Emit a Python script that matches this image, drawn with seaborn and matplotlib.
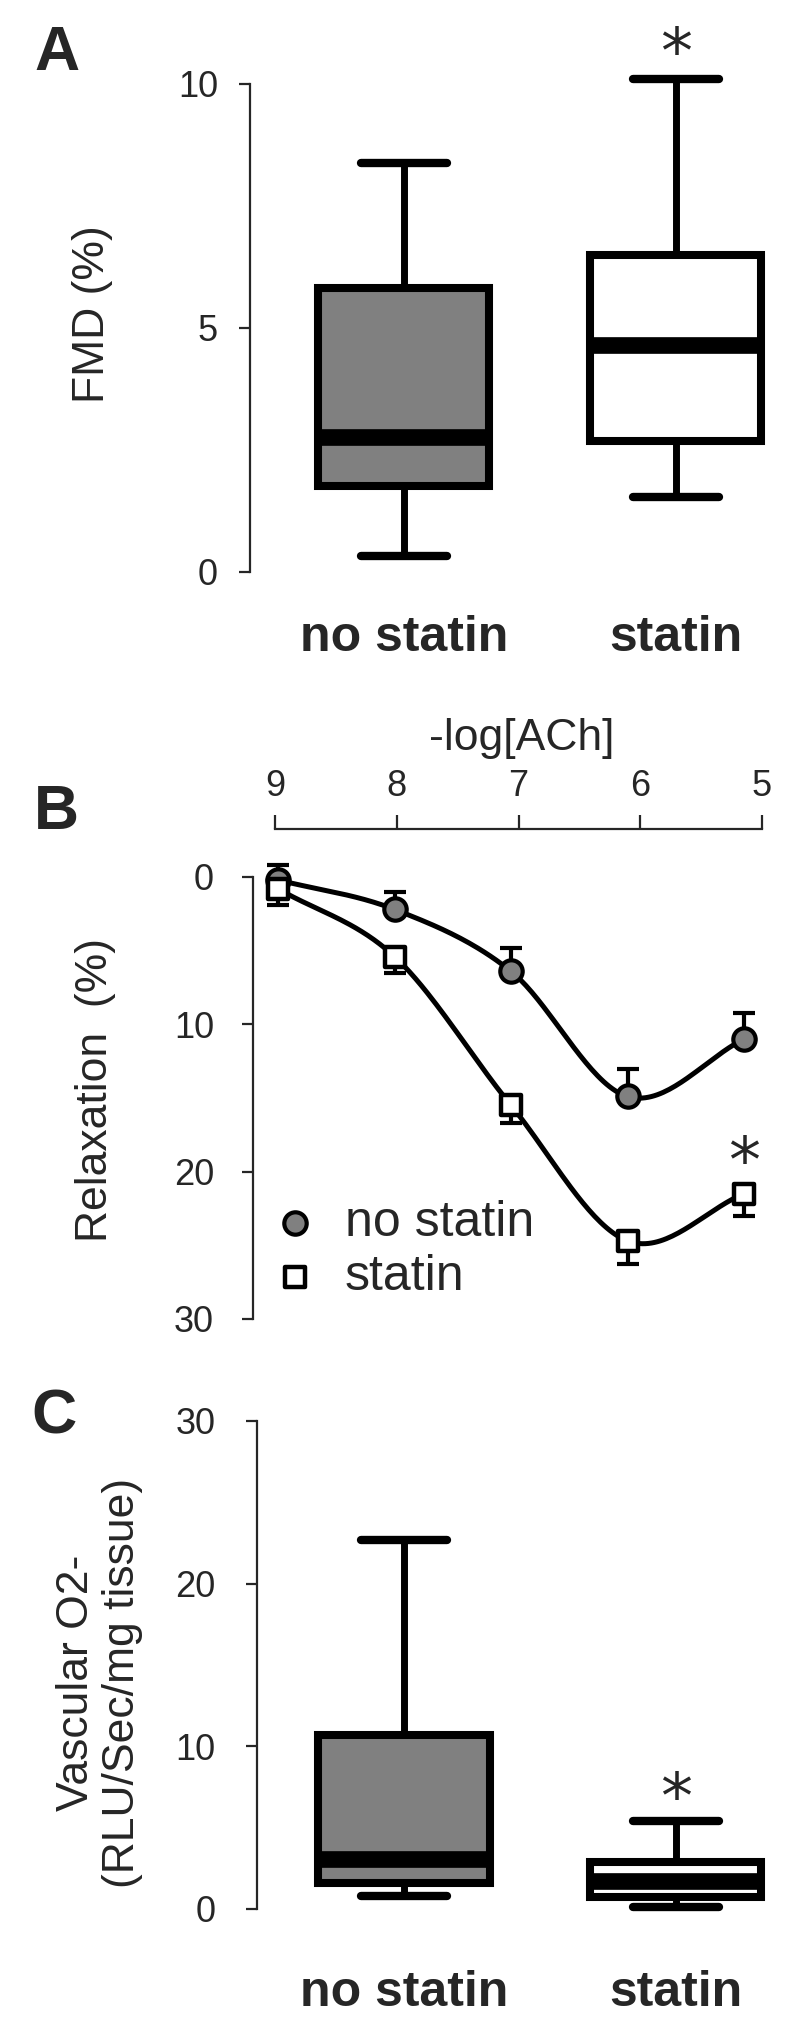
import numpy as np
import pandas as pd
import matplotlib
matplotlib.use('Agg')
import matplotlib.pyplot as plt
import seaborn as sns

# groups shared by the box panels
groups = ['no statin', 'statin']

# A: FMD (%), five-number summaries (min, q1, median, q3, max)
fmd_no_statin = [0.32, 1.76, 2.76, 5.82, 8.37]
fmd_statin = [1.54, 2.68, 4.65, 6.49, 10.1]

# B: relaxation (%) against -log[ACh], mean and SEM
ach = [9, 8, 7, 6, 5]
relax_no_statin = [0.2, 2.2, 6.4, 14.9, 11.0]
sem_no_statin = [1.0, 1.2, 1.6, 1.9, 1.8]
relax_statin = [0.8, 5.4, 15.5, 24.7, 21.5]
sem_statin = [1.1, 1.1, 1.2, 1.6, 1.5]

# C: vascular O2-, five-number summaries
o2_no_statin = [0.8, 1.6, 3.1, 10.7, 22.7]
o2_statin = [0.1, 0.75, 1.7, 2.9, 5.4]

box_colors = {'no statin': '#808080', 'statin': 'white'}

sns.set_style('white')
plt.rcParams['font.family'] = ['Liberation Sans', 'DejaVu Sans']
num_font = ['Liberation Sans Narrow', 'Liberation Sans', 'DejaVu Sans']

W, H = 800, 2038
fig = plt.figure(figsize=(W / 100, H / 100), dpi=100)


def px_axes(left, top, right, bottom):
    return fig.add_axes([left / W, 1 - bottom / H, (right - left) / W, (bottom - top) / H])


def smooth(xs, ys, n=40):
    # cubic hermite path through the points, only used to draw the fitted line
    xs = np.asarray(xs, float)
    ys = np.asarray(ys, float)
    m = np.gradient(ys, xs)
    px, py = [], []
    for i in range(len(xs) - 1):
        t = np.linspace(0, 1, n)
        h = xs[i + 1] - xs[i]
        h00 = 2 * t**3 - 3 * t**2 + 1
        h10 = t**3 - 2 * t**2 + t
        h01 = -2 * t**3 + 3 * t**2
        h11 = t**3 - t**2
        px.append(xs[i] + h * t)
        py.append(h00 * ys[i] + h10 * h * m[i] + h01 * ys[i + 1] + h11 * h * m[i + 1])
    return np.concatenate(px), np.concatenate(py)


def box_panel(ax, lo_vals, hi_vals, ticks, ypad, xpad):
    df = pd.DataFrame({'group': np.repeat(groups, 5), 'value': list(lo_vals) + list(hi_vals)})
    sns.boxplot(data=df, x='group', y='value', hue='group', order=groups,
                palette=box_colors, saturation=1, width=0.63, whis=(0, 100),
                linecolor='black', linewidth=5.8, legend=False, ax=ax,
                medianprops={'linewidth': 12},
                whiskerprops={'linewidth': 5},
                capprops={'linewidth': 6})
    for s in ['top', 'right', 'bottom']:
        ax.spines[s].set_visible(False)
    ax.spines['left'].set_linewidth(1.6)
    ax.spines['left'].set_bounds(ticks[0], ticks[-1])
    ax.set_yticks(ticks)
    ax.set_yticklabels([str(t) for t in ticks])
    ax.tick_params(axis='y', direction='out', length=8, width=1.6, pad=ypad,
                   labelsize=26, left=True)
    ax.tick_params(axis='x', length=0, pad=xpad, labelsize=36)
    for t in ax.get_yticklabels():
        t.set_fontfamily(num_font)
    for t in ax.get_xticklabels():
        t.set_fontweight('bold')
    ax.set_xlabel('')


# ---- A
axA = px_axes(250, 40, 790, 600)
box_panel(axA, fmd_no_statin, fmd_statin, [0, 5, 10], 15, 11)
axA.set_xlim(-0.565, 1.42)
axA.set_ylim(-0.574, 10.90)
axA.set_ylabel('FMD (%)', fontsize=32)
axA.yaxis.set_label_coords(-0.254, 0.511)
axA.text(1, 10.6, '*', fontsize=46, ha='center', va='center', family='DejaVu Sans')

# ---- B
axB = px_axes(253, 860, 790, 1340)
xs, ys = smooth(ach, relax_no_statin)
axB.plot(xs, ys, color='black', lw=3.6, zorder=2)
xs, ys = smooth(ach, relax_statin)
axB.plot(xs, ys, color='black', lw=3.6, zorder=2)
axB.errorbar(ach, relax_no_statin, yerr=[sem_no_statin, [0] * 5], fmt='none',
             ecolor='black', elinewidth=3, capsize=8, capthick=3, zorder=3)
axB.errorbar(ach, relax_statin, yerr=[[0] * 5, sem_statin], fmt='none',
             ecolor='black', elinewidth=3, capsize=8, capthick=3, zorder=3)
sns.scatterplot(x=ach, y=relax_no_statin, marker='o', s=260, color='#808080',
                edgecolor='black', linewidth=3, zorder=4, ax=axB, label='no statin')
sns.scatterplot(x=ach, y=relax_statin, marker='s', s=190, color='white',
                edgecolor='black', linewidth=3.2, zorder=4, ax=axB, label='statin')
axB.set_xlim(9.215, 4.605)
axB.set_ylim(31.43, -1.154)
for s in ['top', 'right', 'bottom']:
    axB.spines[s].set_visible(False)
axB.spines['left'].set_linewidth(1.6)
axB.spines['left'].set_bounds(0, 30)
axB.set_xticks([])
axB.set_yticks([0, 10, 20, 30])
axB.tick_params(axis='y', direction='out', length=8, width=1.6, pad=20, labelsize=26, left=True)
for t in axB.get_yticklabels():
    t.set_fontfamily(num_font)
axB.set_ylabel('Relaxation  (%)', fontsize=32)
axB.yaxis.set_label_coords(-0.255, 0.521)
axB.text(5, 19.5, '*', fontsize=46, ha='center', va='center', family='DejaVu Sans')
axB.legend(loc='upper left', bbox_to_anchor=(0.041, 0.292), frameon=False,
           fontsize=36, borderpad=0, borderaxespad=0, handlelength=0.8,
           handletextpad=0.6, labelspacing=0.16)

# top concentration axis
axT = axB.twiny()
axT.set_xlim(9.181, 4.770)
for s in ['left', 'right', 'bottom']:
    axT.spines[s].set_visible(False)
axT.spines['top'].set_position(('outward', 22))
axT.spines['top'].set_linewidth(1.6)
axT.spines['top'].set_bounds(9, 5)
axT.set_xticks(ach)
axT.tick_params(axis='x', direction='out', length=10, width=1.6, pad=8, labelsize=26, top=True)
for t in axT.get_xticklabels():
    t.set_fontfamily(num_font)
axT.set_xlabel('-log[ACh]', fontsize=32, labelpad=14)

# ---- C
axC = px_axes(257, 1400, 790, 1935)
box_panel(axC, o2_no_statin, o2_statin, [0, 10, 20, 30], 22, 25)
axC.set_xlim(-0.54, 1.42)
axC.set_ylim(-1.6, 31.29)
axC.set_ylabel('Vascular O2-\n(RLU/Sec/mg tissue)', fontsize=32, linespacing=1.15)
axC.yaxis.set_label_coords(-0.214, 0.471)
axC.text(1, 6.7, '*', fontsize=46, ha='center', va='center', family='DejaVu Sans')

# panel letters
for letter, x, y in [('A', 57, 70), ('B', 56, 829), ('C', 54, 1434)]:
    fig.text(x / W, 1 - y / H, letter, fontsize=45, fontweight='bold', ha='center', va='baseline')

fig.savefig('out.png', dpi=100, facecolor='white')
